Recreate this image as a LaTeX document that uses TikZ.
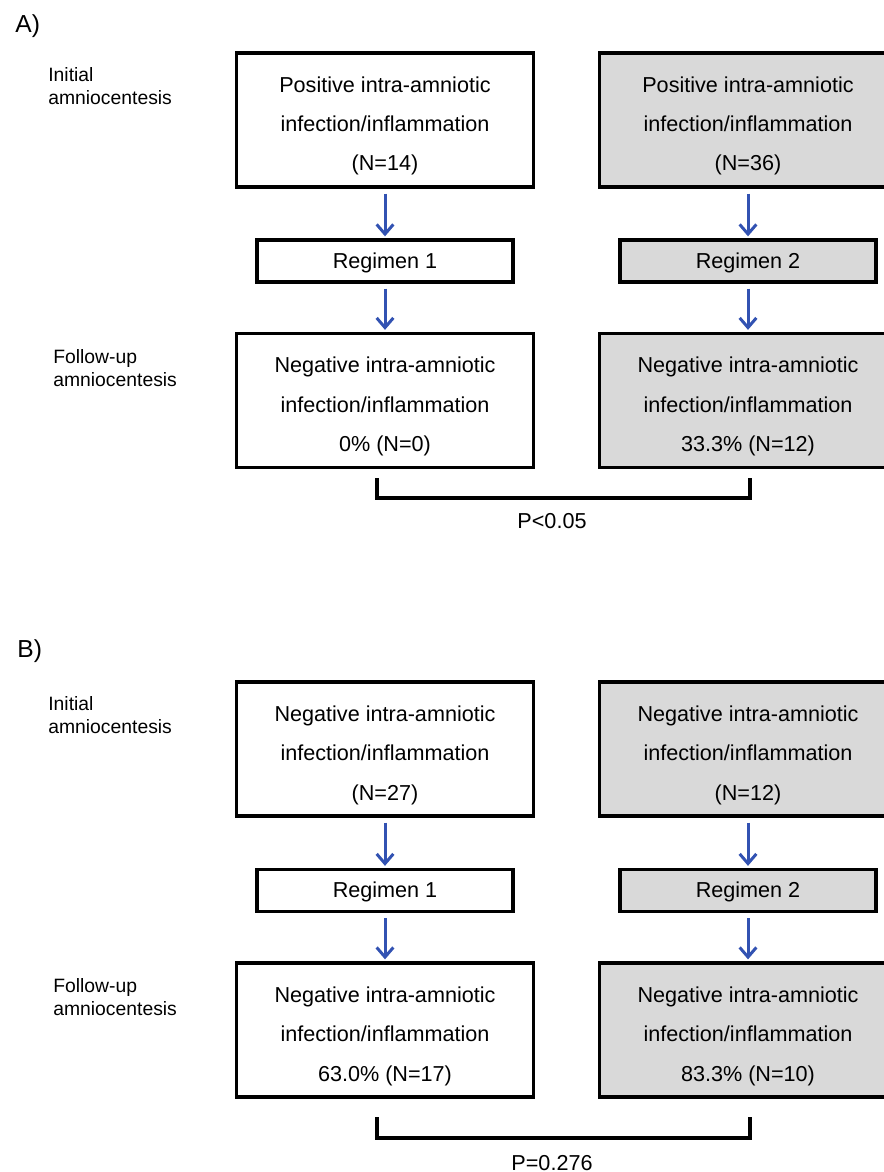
\documentclass[tikz,border=0pt]{standalone}
\usepackage{fontspec}
\setmainfont{Liberation Sans}
\usepackage{xcolor}
\usetikzlibrary{arrows.meta,positioning}
\definecolor{flowblue}{RGB}{50,82,178}
\definecolor{boxgray}{RGB}{217,217,217}
\newcommand{\toppad}{\rule{0pt}{15.8pt}}

\begin{document}
\begin{tikzpicture}[x=0.02cm,y=-0.02cm,
  bigbox/.style={draw,line width=1.9pt,minimum width=5.94cm,minimum height=2.68cm,align=center,inner sep=0pt,font=\fontsize{12.3}{22.4}\selectfont},
  regbox/.style={draw,line width=1.9pt,minimum width=5.12cm,minimum height=0.84cm,inner sep=0pt,text height=11pt,text depth=2.6pt,font=\fontsize{12.3}{14}\selectfont},
  shaded/.style={fill=boxgray},
  side/.style={anchor=north west,align=left,inner sep=0pt,font=\fontsize{11}{13.4}\selectfont},
  panel/.style={anchor=base west,inner sep=0pt,font=\fontsize{14}{16}\selectfont},
  pval/.style={anchor=base,inner sep=0pt,font=\fontsize{12.3}{14}\selectfont},
  flow/.style={-{Straight Barb[length=5.5pt,width=9.5pt]},draw=flowblue,line width=1.7pt,shorten <=0.1cm,shorten >=0.04cm},
  bracket/.style={line width=1.9pt}]

	\path[use as bounding box] (0,0) rectangle (884,1172);
	\clip (0,0) rectangle (884,1172);

    % Panel A
	\node [panel] at (15,33) (labA) {A)};
	\node [side] at (48,67) (initA) {Initial\\amniocentesis};
	\node [side] at (53,349) (follA) {Follow-up\\amniocentesis};

	\node [bigbox] at (385,120) (a1) {\toppad Positive intra-amniotic\\infection/inflammation\\(N=14)};
	\node [bigbox,shaded] at (748,120) (a2) {\toppad Positive intra-amniotic\\infection/inflammation\\(N=36)};
	\node [regbox] at (385,261) (ra1) {Regimen 1};
	\node [regbox,shaded] at (748,261) (ra2) {Regimen 2};
	\node [bigbox] at (385,400.5) (a3) {\toppad Negative intra-amniotic\\infection/inflammation\\0\% (N=0)};
	\node [bigbox,shaded] at (748,400.5) (a4) {\toppad Negative intra-amniotic\\infection/inflammation\\33.3\% (N=12)};

	% Panel A edges
	\path[flow]
	(a1) edge (ra1)
	(ra1) edge (a3)
	(a2) edge (ra2)
	(ra2) edge (a4);

	\coordinate (bA1) at (377,478);
	\coordinate (bA2) at (377,498);
	\coordinate (bA3) at (750,498);
	\coordinate (bA4) at (750,478);
	\draw [bracket] (bA1) -- (bA2) -- (bA3) -- (bA4);
	\node [pval] at (552,528) (pA) {P<0.05};

    % Panel B
	\node [panel] at (17,657) (labB) {B)};
	\node [side] at (48,696) (initB) {Initial\\amniocentesis};
	\node [side] at (53,978) (follB) {Follow-up\\amniocentesis};

	\node [bigbox] at (385,749) (b1) {\toppad Negative intra-amniotic\\infection/inflammation\\(N=27)};
	\node [bigbox,shaded] at (748,749) (b2) {\toppad Negative intra-amniotic\\infection/inflammation\\(N=12)};
	\node [regbox] at (385,890.5) (rb1) {Regimen 1};
	\node [regbox,shaded] at (748,890.5) (rb2) {Regimen 2};
	\node [bigbox] at (385,1030) (b3) {\toppad Negative intra-amniotic\\infection/inflammation\\63.0\% (N=17)};
	\node [bigbox,shaded] at (748,1030) (b4) {\toppad Negative intra-amniotic\\infection/inflammation\\83.3\% (N=10)};

	% Panel B edges
	\path[flow]
	(b1) edge (rb1)
	(rb1) edge (b3)
	(b2) edge (rb2)
	(rb2) edge (b4);

	\coordinate (bB1) at (377,1117);
	\coordinate (bB2) at (377,1138);
	\coordinate (bB3) at (750,1138);
	\coordinate (bB4) at (750,1117);
	\draw [bracket] (bB1) -- (bB2) -- (bB3) -- (bB4);
	\node [pval] at (552,1170) (pB) {P=0.276};

\end{tikzpicture}
\end{document}
